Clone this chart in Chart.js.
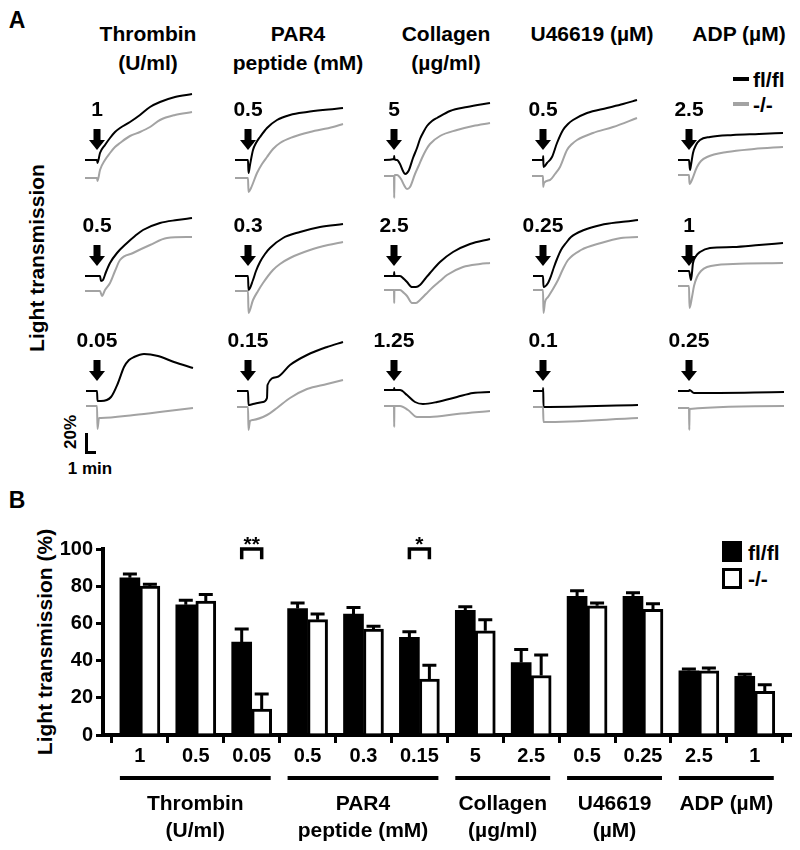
<!DOCTYPE html>
<html><head><meta charset="utf-8">
<script src="https://cdn.jsdelivr.net/npm/chart.js@4/dist/chart.umd.min.js"></script>
<style>
body{margin:0;background:#fff;width:800px;height:850px;position:relative;overflow:hidden;font-family:"Liberation Sans",Arial,sans-serif;font-weight:bold;color:#000}
.t{position:absolute;white-space:nowrap;transform:translate(-50%,-50%);font-size:21px;line-height:1}
.l{position:absolute;white-space:nowrap;transform:translate(0,-50%);font-size:21px;line-height:1}
.r{position:absolute;white-space:nowrap;transform:translate(-50%,-50%) rotate(-90deg);font-size:21px;line-height:1}
.box{position:absolute;box-sizing:border-box}
canvas{position:absolute}
</style></head><body>
<script>
// ---------- Panel A: aggregation traces (x = min after agonist, y = % light transmission, offset traces) ----------
const colTitles = [['Thrombin','(U/ml)'],['PAR4','peptide (mM)'],['Collagen','(µg/ml)'],['U46619 (µM)'],['ADP (µM)']];
const doseA = [['1','0.5','5','0.5','2.5'],['0.5','0.3','2.5','0.25','1'],['0.05','0.15','1.25','0.1','0.25']];

const thr1_fl = [[-1.2,0],[0,0],[0.05,-3],[0.3,7],[0.8,15],[1.3,22],[1.8,28],[2.3,32],[3.3,38],[4.3,45],[5.3,53],[6.3,58],[7.8,63],[9.5,66]];
const thr1_ko = [[-1.2,-18],[0,-18],[0.05,-21],[0.3,-10],[0.8,0],[1.3,7],[1.8,13],[2.3,17],[3.3,24],[4.3,28],[5.3,33],[6.3,40],[7.8,45],[9.5,48]];
const par05_fl = [[-1.3,0],[0,0],[0.05,-13],[0.2,-5],[0.5,10],[0.8,17],[1.2,23],[1.9,32],[2.9,40],[4.2,45],[5.9,48],[7.5,50],[9.5,52]];
const par05_ko = [[-1.3,-18],[0,-18],[0.05,-32],[0.3,-28],[0.9,-13],[1.4,-4],[1.9,3],[2.5,11],[3.2,17],[4.5,23],[6.2,28],[8.5,33],[9.5,36]];
const col5_fl = [[-1.0,0],[0,1],[0.02,4],[0.04,1],[0.3,0],[0.6,-4],[0.9,-11],[1.1,-14],[1.3,-13],[1.5,-10],[1.9,2],[2.3,12],[2.6,21],[3.0,29],[3.3,34],[3.8,39],[4.3,42],[5.6,49],[7.3,53],[9.6,57]];
const col5_ko = [[-1.0,-16],[0,-16],[0.02,-38],[0.05,-15],[0.3,-15],[0.7,-19],[1.0,-25],[1.3,-29],[1.6,-27],[2.1,-14],[2.5,-5],[2.8,2],[3.2,10],[3.6,16],[4.6,24],[6.3,30],[7.9,34],[9.6,37]];
const u05_fl = [[-1.1,0],[0,0],[0.02,4],[0.05,-7],[0.4,-3],[0.9,3],[1.4,17],[2.0,30],[2.5,36],[3.0,40],[4.4,47],[6.4,52],[8.0,56],[9.4,60]];
const u05_ko = [[-1.1,-16],[0,-16],[0.02,-27],[0.1,-23],[0.7,-20],[1.2,-14],[1.7,-7],[2.4,10],[2.9,16],[3.4,20],[5.0,27],[7.0,33],[9.4,42]];
const adp25_fl = [[-1.1,0],[0,0],[0.1,-10],[0.2,-5],[0.4,7],[0.7,15],[1.1,20],[2.1,23],[4.4,25],[7.0,26],[9.4,27]];
const adp25_ko = [[-1.1,-15],[0,-15],[0.05,-24],[0.2,-22],[0.8,-7],[1.2,-1],[1.8,3],[3.8,8],[6.5,11],[9.4,13]];

const thr05_fl = [[-1.2,0],[0.3,0],[0.4,-5],[0.6,-4],[0.9,4],[1.3,13],[2.0,23],[3.0,33],[3.8,40],[4.6,46],[6.3,53],[8.0,56],[9.5,58]];
const thr05_ko = [[-1.2,-15],[0.3,-15],[0.5,-20],[0.8,-14],[1.3,-7],[1.8,5],[2.3,16],[3.6,23],[5.3,31],[7.0,38],[9.5,39]];
const par03_fl = [[-1.3,0],[0,0],[0.05,-14],[0.5,-4],[0.8,5],[1.2,14],[1.7,22],[2.2,28],[3.5,38],[5.2,44],[7.2,49],[9.5,52]];
const par03_ko = [[-1.3,-15],[0,-15],[0.05,-37],[0.5,-24],[1.0,-15],[1.5,-7],[2.5,6],[3.2,12],[4.2,18],[6.2,26],[8.0,31],[9.5,34]];
const col25_fl = [[-1.0,0],[0,0],[0.02,4],[0.04,0],[0.6,0],[1.0,-3],[1.3,-6],[1.8,-11],[2.2,-11],[2.6,-9],[3.1,-3],[3.6,3],[4.6,14],[5.9,24],[7.6,32],[9.6,37]];
const col25_ko = [[-1.0,-14],[0,-14],[0.02,-27],[0.04,-14],[0.6,-14],[1.0,-17],[1.3,-20],[1.8,-27],[2.2,-27],[2.6,-24],[3.2,-18],[3.9,-11],[4.6,-5],[5.3,1],[6.9,9],[8.6,12],[9.6,13]];
const u025_fl = [[-1.0,0],[0,0],[0.05,-11],[0.5,-7],[0.8,0],[1.1,9],[1.4,17],[1.8,26],[2.3,33],[2.8,39],[4.1,46],[5.8,51],[7.8,54],[9.5,56]];
const u025_ko = [[-1.0,-14],[0,-14],[0.05,-37],[0.2,-26],[0.5,-21],[1.0,-13],[1.5,-4],[2.0,7],[2.5,16],[3.8,26],[5.8,33],[7.8,38],[9.5,39]];
const adp1_fl = [[-1.1,5],[0,5],[0.2,-4],[0.4,13],[0.7,20],[1.1,24],[2.1,28],[4.4,29],[7.0,31],[9.4,33]];
const adp1_ko = [[-1.1,-10],[0,-10],[0.05,-32],[0.3,-21],[0.5,-10],[0.8,-1],[1.2,5],[1.8,9],[4.4,12],[9.4,13]];

const thr005_fl = [[-1.1,0],[0,0],[0.05,-10],[0.4,-10],[1.4,-6],[2.1,8],[2.7,24],[3.2,31],[3.7,34],[4.7,37],[6.1,35],[7.7,29],[9.6,23]];
const thr005_ko = [[-1.1,-15],[0,-15],[0.05,-38],[0.2,-27],[0.4,-27],[3.7,-24],[7.1,-20],[9.6,-17]];
const par015_fl = [[-1.1,0],[0,0],[0.05,-14],[0.5,-13],[1.5,-11],[1.9,-7],[1.95,6],[2.9,14],[4.2,26],[5.9,36],[7.9,44],[9.5,49]];
const par015_ko = [[-1.1,-16],[0,-16],[0.05,-39],[0.2,-30],[0.5,-29],[1.9,-24],[2.9,-17],[4.2,-7],[5.9,2],[7.9,7],[9.5,11]];
const col125_fl = [[-1.0,1],[0,1],[0.02,3],[0.04,1],[0.6,1],[1.3,-4],[2.1,-11],[2.9,-13],[4.3,-11],[6.3,-6],[7.9,-2],[9.6,-1]];
const col125_ko = [[-1.0,-15],[0,-15],[0.02,-36],[0.04,-15],[0.6,-15],[1.4,-19],[2.3,-26],[3.6,-26],[6.3,-23],[9.6,-20]];
const u01_fl = [[-1.0,0],[0,0],[0.02,3],[0.05,-16],[9.5,-14]];
const u01_ko = [[-1.0,-16],[0,-16],[0.05,-31],[9.5,-27]];
const adp025_fl = [[-1.1,0],[0,0],[0.05,1],[0.5,-2],[9.5,-1]];
const adp025_ko = [[-1.1,-17],[0,-17],[0.03,-39],[0.06,-18],[9.5,-15]];

// ---------- Panel B: bar chart ----------
const doseLabels = ['1','0.5','0.05','0.5','0.3','0.15','5','2.5','0.5','0.25','2.5','1'];
const flMean = [84.5,70,50,68,65,52.5,67,39,74.5,74.5,34.5,31.5];
const flErr  = [2,2.5,7,3,3.5,3,2,7,3,2,1,1.2];
const koMean = [80,72,14,62,57,30,56,32,69.5,67.5,34.5,23.5];
const koErr  = [1,3.5,8,3,1.5,7.5,6,11,1.5,3,1.5,3.5];
const groupNames = [['Thrombin','(U/ml)'],['PAR4','peptide (mM)'],['Collagen','(µg/ml)'],['U46619','(µM)'],['ADP (µM)']];
const groupSpans = [[0,2],[3,5],[6,7],[8,9],[10,11]];
const sigMarks = [[2,'**'],[5,'*']];
const seriesNames = ['fl/fl','-/-'];

// ---------- layout (page pixels) ----------
const rowBase = [160,276,391];
const colArrow = [97,248,394,543,689];
const colTitleX = [148,298,446,592,739];
const GRAY = '#a3a3a3';
Chart.defaults.font.family = '"Liberation Sans", Arial, sans-serif';
Chart.defaults.font.weight = 'bold';
Chart.defaults.color = '#000';

function el(cls, txt, x, y, extra){ const d=document.createElement('div'); d.className=cls; d.textContent=txt; d.style.left=x+'px'; d.style.top=y+'px'; if(extra) Object.assign(d.style, extra); document.body.appendChild(d); return d; }
function box(x,y,w,h,style){ const d=document.createElement('div'); d.className='box'; Object.assign(d.style,{left:x+'px',top:y+'px',width:w+'px',height:h+'px'},style); document.body.appendChild(d); }

// Panel A text
el('t','A',17,20,{fontSize:'23px'});
colTitles.forEach((t,i)=>{ el('t',t[0],colTitleX[i],33); if(t[1]) el('t',t[1],colTitleX[i],62); });
el('r','Light transmission',36,258);
box(733,77,16,4,{background:'#000'}); el('l',seriesNames[0],753,79);
box(733,102,16,4,{background:GRAY}); el('l',seriesNames[1],753,104);
// scale bar
box(85,433,3,21,{background:'#000'}); box(85,451,11,3,{background:'#000'});
el('r','20%',70,432,{fontSize:'17px'}); el('t','1 min',90,468,{fontSize:'17px'});

const flSet = [[thr1_fl,par05_fl,col5_fl,u05_fl,adp25_fl],[thr05_fl,par03_fl,col25_fl,u025_fl,adp1_fl],[thr005_fl,par015_fl,col125_fl,u01_fl,adp025_fl]];
const koSet = [[thr1_ko,par05_ko,col5_ko,u05_ko,adp25_ko],[thr05_ko,par03_ko,col25_ko,u025_ko,adp1_ko],[thr005_ko,par015_ko,col125_ko,u01_ko,adp025_ko]];
const toXY = a => a.map(p=>({x:p[0],y:p[1]}));

for(let r=0;r<3;r++) for(let c=0;c<5;c++){
  const cv=document.createElement('canvas'); cv.width=145; cv.height=120;
  cv.style.left=(colArrow[c]-40)+'px'; cv.style.top=(rowBase[r]-75)+'px';
  document.body.appendChild(cv);
  const label = doseA[r][c];
  const arrowPlugin = {id:'arrowLbl', afterDatasetsDraw(chart){
    const ctx=chart.ctx, xs=chart.scales.x, ys=chart.scales.y;
    const px=xs.getPixelForValue(0), top=ys.getPixelForValue(31), hs=ys.getPixelForValue(20), tip=ys.getPixelForValue(10);
    ctx.save(); ctx.fillStyle='#000';
    ctx.fillRect(px-3.5,top,7,hs-top);
    ctx.beginPath(); ctx.moveTo(px-8,hs); ctx.lineTo(px+8,hs); ctx.lineTo(px,tip); ctx.closePath(); ctx.fill();
    ctx.font='bold 21px "Liberation Sans", Arial, sans-serif'; ctx.textAlign='center'; ctx.textBaseline='middle';
    ctx.fillText(label, px, ys.getPixelForValue(50));
    ctx.restore();
  }};
  new Chart(cv,{type:'scatter',
    data:{datasets:[
      {label:seriesNames[1],data:toXY(koSet[r][c]),showLine:true,borderColor:GRAY,borderWidth:2,pointRadius:0,cubicInterpolationMode:'monotone'},
      {label:seriesNames[0],data:toXY(flSet[r][c]),showLine:true,borderColor:'#000',borderWidth:2,pointRadius:0,cubicInterpolationMode:'monotone'}
    ]},
    options:{responsive:false,animation:false,devicePixelRatio:1,clip:false,
      layout:{padding:0},
      plugins:{legend:{display:false},tooltip:{enabled:false}},
      scales:{x:{type:'linear',min:-4,max:10.5,display:false},y:{min:-45,max:75,display:false}}},
    plugins:[arrowPlugin]});
}

// Panel B
el('t','B',17,500,{fontSize:'23px'});
el('r','Light transmission (%)',44,642);
box(722,541,20,21,{background:'#000'}); el('l',seriesNames[0],748,552);
box(722,568,20,21,{background:'#fff',border:'3px solid #000'}); el('l',seriesNames[1],748,578);

const cvB=document.createElement('canvas'); cvB.width=800; cvB.height=330; cvB.style.left='0px'; cvB.style.top='520px';
document.body.appendChild(cvB);
const barExtras = {id:'barExtras', afterDatasetsDraw(chart){
  const ctx=chart.ctx, xs=chart.scales.x, ys=chart.scales.y;
  ctx.save(); ctx.strokeStyle='#000'; ctx.fillStyle='#000'; ctx.lineWidth=3; ctx.lineCap='butt';
  [[0,flMean,flErr],[1,koMean,koErr]].forEach(([d,m,e])=>{
    chart.getDatasetMeta(d).data.forEach((b,i)=>{
      const yt=ys.getPixelForValue(m[i]+e[i]), yb=ys.getPixelForValue(m[i]);
      ctx.beginPath(); ctx.moveTo(b.x,yb); ctx.lineTo(b.x,yt); ctx.moveTo(b.x-7,yt); ctx.lineTo(b.x+7,yt); ctx.stroke();
    });
  });
  // significance brackets
  sigMarks.forEach(([i,s])=>{
    const a=chart.getDatasetMeta(0).data[i].x, b=chart.getDatasetMeta(1).data[i].x;
    const yt=ys.getPixelForValue(100), yl=ys.getPixelForValue(94.5);
    ctx.lineWidth=3.5; ctx.beginPath(); ctx.moveTo(a,yl); ctx.lineTo(a,yt); ctx.lineTo(b,yt); ctx.lineTo(b,yl); ctx.stroke();
    ctx.font='bold 21px "Liberation Sans", Arial, sans-serif'; ctx.textAlign='center'; ctx.textBaseline='alphabetic';
    ctx.fillText(s,(a+b)/2,yt+2);
  });
  // group lines and labels
  groupSpans.forEach(([a,b],g)=>{
    const x1=xs.getPixelForValue(a)-20, x2=xs.getPixelForValue(b)+19, yl=258;
    ctx.fillRect(x1,yl-2,x2-x1,4);
    ctx.font='bold 21px "Liberation Sans", Arial, sans-serif'; ctx.textAlign='center'; ctx.textBaseline='middle';
    groupNames[g].forEach((t,k)=>ctx.fillText(t,(x1+x2)/2,284+k*27));
  });
  ctx.restore();
}};
new Chart(cvB,{type:'bar',
  data:{datasets:[
    {label:seriesNames[0],data:flMean.map((v,i)=>({x:i,y:v})),backgroundColor:'#000',borderWidth:0,barThickness:20},
    {label:seriesNames[1],data:koMean.map((v,i)=>({x:i,y:v})),backgroundColor:'#fff',borderColor:'#000',borderWidth:3,barThickness:20}
  ]},
  options:{responsive:false,animation:false,devicePixelRatio:1,
    layout:{padding:{top:29,right:10,bottom:0,left:0}},
    plugins:{legend:{display:false},tooltip:{enabled:false}},
    scales:{
      x:{type:'linear',min:-0.66,max:11.63,offset:false,
        afterBuildTicks:s=>{s.ticks=doseLabels.map((_,i)=>({value:i}));},
        afterFit:s=>{s.height=115;},
        ticks:{callback:(v,i)=>doseLabels[i],autoSkip:false,maxRotation:0,font:{size:20,weight:'bold'},color:'#000',padding:1},
        grid:{display:true,drawOnChartArea:false,drawTicks:true,tickLength:8,color:'#000',lineWidth:3},
        border:{display:true,color:'#000',width:4}},
      y:{min:0,max:100,
        afterFit:s=>{s.width=103;},
        ticks:{stepSize:20,font:{size:20,weight:'bold'},color:'#000',padding:3},
        grid:{display:true,drawOnChartArea:false,drawTicks:true,tickLength:7,color:'#000',lineWidth:3},
        border:{display:true,color:'#000',width:4}}
    }},
  plugins:[barExtras]});
</script>
</body></html>
